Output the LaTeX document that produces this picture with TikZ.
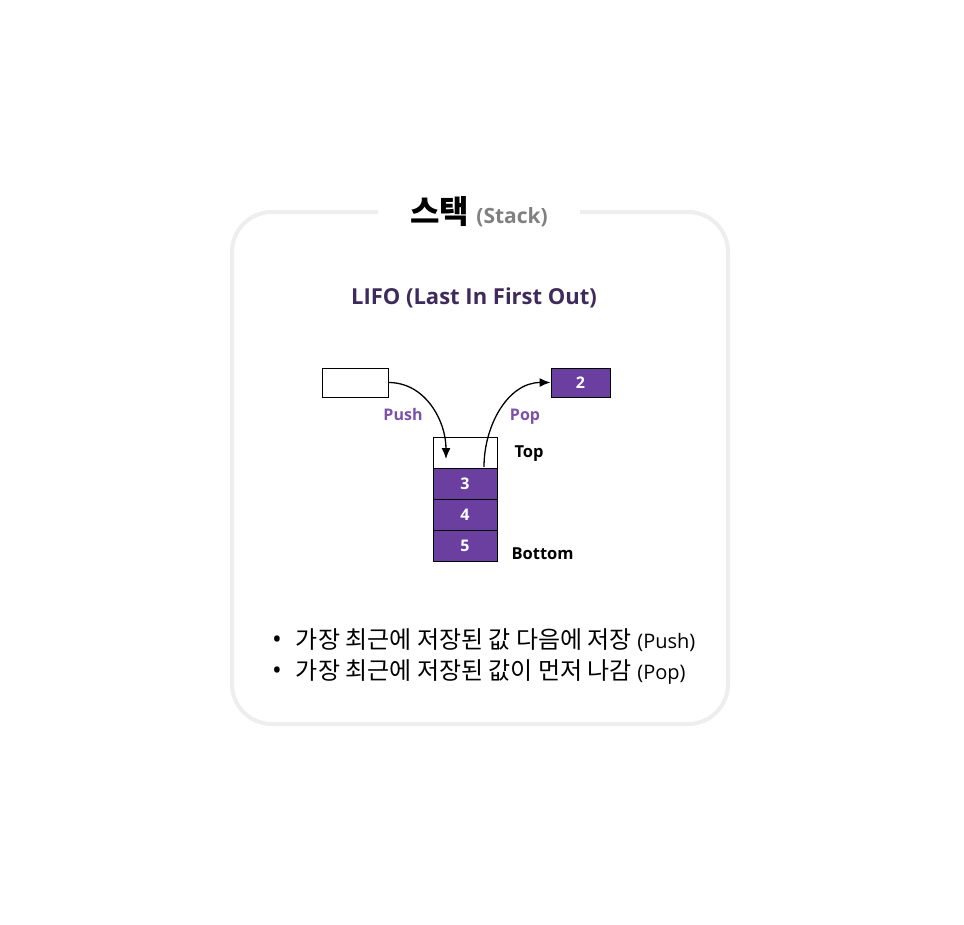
\documentclass[tikz,border=0pt]{standalone}
\usepackage{fontspec}
\setmainfont{Open Sans}
\newfontfamily\kr{Noto Sans CJK KR}
\usetikzlibrary{arrows.meta}
\definecolor{stackpurple}{HTML}{6B3FA0}
\definecolor{labelpurple}{HTML}{7B52A8}
\definecolor{lifopurple}{HTML}{3F2A5C}
\definecolor{framegray}{HTML}{EEEEEE}
\tikzset{
  cell/.style={draw=black, line width=1pt, minimum width=64pt, minimum height=31pt, inner sep=0pt,
    font=\fontsize{16}{16}\selectfont\bfseries, text=white},
  full/.style={fill=stackpurple},
  oplabel/.style={font=\fontsize{16}{16}\selectfont\bfseries, text=labelpurple, anchor=base},
  sidelabel/.style={font=\fontsize{16.5}{17}\selectfont\bfseries, anchor=base west},
  flow/.style={line width=1.3pt, -{Latex[length=11pt,width=9pt]}}
}
\begin{document}
\begin{tikzpicture}[x=1pt,y=1pt]
  \useasboundingbox[fill=white] (0,0) rectangle (964,-924);
  % frame with gap for the title
  \draw[line width=4pt, framegray, rounded corners=40pt]
    (378,-212) -- (232,-212) -- (232,-724) -- (728,-724) -- (728,-212) -- (580,-212);
  \node (title) at (479,-212) {\kr\fontsize{32}{32}\selectfont\bfseries 스택
    {\color{gray}\rmfamily\fontsize{21}{21}\selectfont (Stack)}};
  \node[font=\fontsize{22}{22}\selectfont\bfseries, text=lifopurple] (lifo) at (474,-298) {LIFO (Last In First Out)};

  % stack
  \node[cell, fill=white] (top) at (465,-453) {};
  \foreach \v [count=\i] in {3,4,5}
    \node[cell, full] (c\v) at (465,{-453-31*\i}) {\v};
  \node[sidelabel] (toplabel) at (511,-457) {Top};
  \node[sidelabel] (bottomlabel) at (508,-559) {Bottom};

  % push / pop
  \node[cell, fill=white, minimum width=66pt, minimum height=29pt] (pushbox) at (355,-382.5) {};
  \node[cell, full, minimum width=59pt, minimum height=29pt] (popbox) at (580.5,-382.5) {2};
  \coordinate (pushend) at (446,-459);
  \coordinate (popstart) at (484,-467);
  \draw[flow] (pushbox.east) to[out=0,in=90] (pushend);
  \draw[flow] (popstart) to[out=90,in=180] (popbox.west);
  \node[oplabel] (pushlabel) at (403,-420) {Push};
  \node[oplabel] (poplabel) at (525,-420) {Pop};

  % bullets
  \node[anchor=west, inner sep=0pt] (line1) at (272,-640) {\fontsize{26}{26}\selectfont •\hspace{14pt}\kr\fontsize{24}{24}\selectfont 가장 최근에 저장된 값 다음에 저장 \rmfamily\fontsize{20}{20}\selectfont(Push)};
  \node[anchor=west, inner sep=0pt] (line2) at (272,-672) {\fontsize{26}{26}\selectfont •\hspace{14pt}\kr\fontsize{24}{24}\selectfont 가장 최근에 저장된 값이 먼저 나감 \rmfamily\fontsize{20}{20}\selectfont(Pop)};
\end{tikzpicture}
\end{document}
